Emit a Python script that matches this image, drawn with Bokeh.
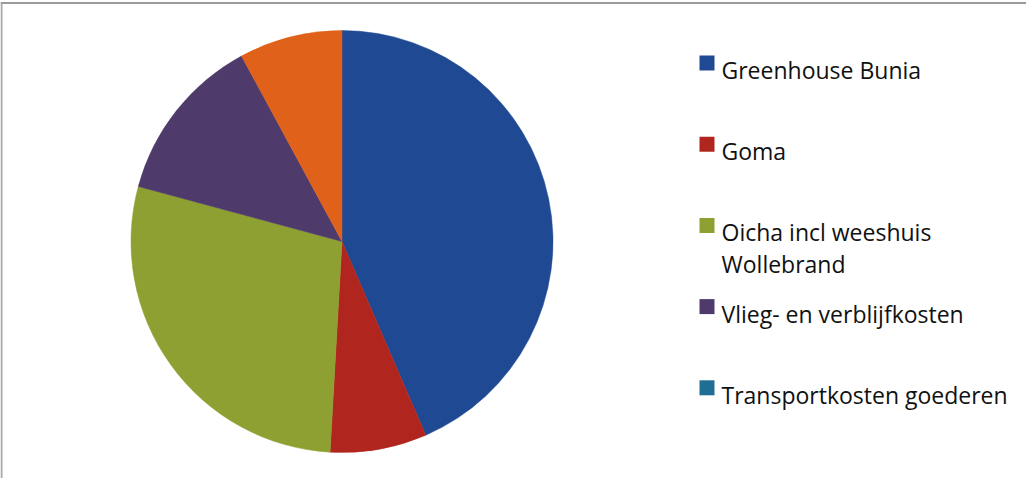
import math
from bokeh.plotting import figure
from bokeh.models import Range1d, ColumnDataSource
from bokeh.core.properties import value
from bokeh.embed import file_html
from bokeh.resources import INLINE

# ---- data (share of total, %) clockwise from 12 o'clock ----
categories = ["Greenhouse Bunia", "Goma", "Oicha incl weeshuis\nWollebrand",
              "Vlieg- en verblijfkosten", "Transportkosten goederen", ""]
shares = [43.5, 7.4, 28.3, 12.9, 0.0, 7.9]
colors = ["#1F4A93", "#B0261F", "#8EA032", "#4F3B6B", "#1F6E93", "#E0611A"]
legend_count = 5  # the sixth (orange) legend entry lies outside the visible area

W, H = 1026, 478
p = figure(width=W, height=H, output_backend="svg", toolbar_location=None,
           x_range=Range1d(8, 8 + W), y_range=Range1d(0, H),
           min_border=0, outline_line_color=None)
p.axis.visible = False
p.grid.visible = False
p.background_fill_color = "white"
p.border_fill_color = "white"

# frame lines (top & left) of the chart box
p.segment(x0=[8], y0=[H - 2.5], x1=[8 + W], y1=[H - 2.5], line_color="#9a9a9a", line_width=2)
p.segment(x0=[9], y0=[0], x1=[9], y1=[H - 2.5], line_color="#a8a8a8", line_width=2)

# ---- pie ----
cx, cy, r = 349.5, 486 - 249, 211
total = sum(shares)
starts, ends = [], []
acc = 0.0
for s in shares:
    a0 = math.pi / 2 - 2 * math.pi * acc / total
    acc += s
    a1 = math.pi / 2 - 2 * math.pi * acc / total
    starts.append(a0)
    ends.append(a1)
idx = [i for i, s in enumerate(shares) if s > 0]
src = ColumnDataSource(dict(
    x=[cx] * len(idx), y=[cy] * len(idx),
    start=[starts[i] for i in idx], end=[ends[i] for i in idx],
    color=[colors[i] for i in idx]))
p.wedge(x="x", y="y", radius=r, start_angle="start", end_angle="end",
        direction="clock", fill_color="color", line_color="color", line_width=0.5,
        source=src)

# ---- legend ----
ly = [486 - (70.5 + 81.2 * i) for i in range(legend_count)]
p.scatter(x=[714.5] * legend_count, y=ly, marker="square", size=15,
          fill_color=colors[:legend_count], line_color=None)
tx, ty, tt = [], [], []
for i in range(legend_count):
    for j, line in enumerate(categories[i].split("\n")):
        tx.append(729)
        ty.append(ly[i] - 7 - 31.7 * j)
        tt.append(line)
p.text(x=tx, y=ty, text=tt,
       text_font=value("Open Sans"), text_font_size="23px", text_color="#111111",
       text_baseline="alphabetic", text_align="left")

open("out.html", "w").write(file_html(p, INLINE))
